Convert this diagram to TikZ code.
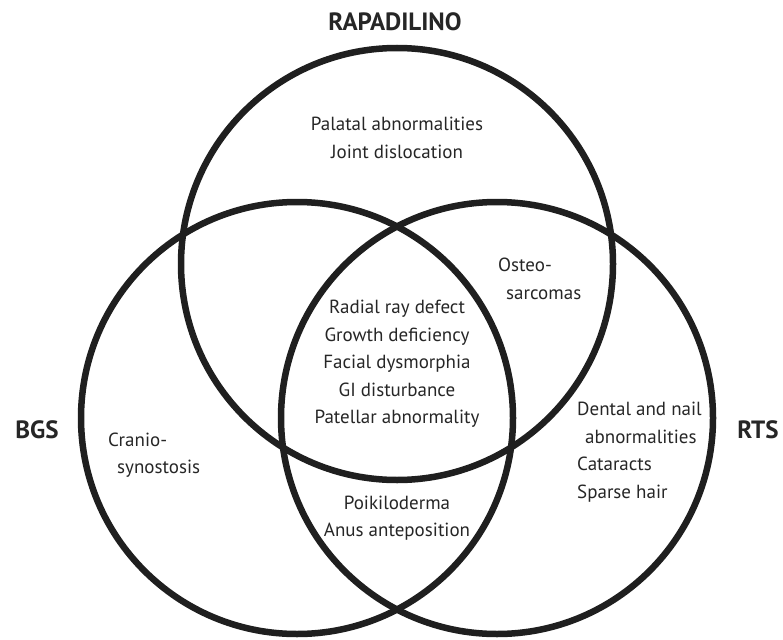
\documentclass[tikz,border=0pt]{standalone}
\usepackage{fontspec}
\setmainfont{PT Sans}

\def\topradius{(397,264) circle (216pt)}
\def\leftradius{(297,418) circle (216pt)}
\def\rightradius{(497,418) circle (216pt)}
\colorlet{circle edge}{black!88}
\colorlet{label text}{black!85}
\tikzset{
  outline/.style={draw=circle edge, line width=6.5pt},
  setname/.style={font=\bfseries\fontsize{25}{28}\selectfont, text=label text, inner sep=0pt},
  trait/.style={font=\fontsize{19}{27.5}\selectfont, text=label text, align=center, inner sep=0pt},
  leftblock/.style={trait, align=left, anchor=west}
}

\begin{document}
\begin{tikzpicture}[x=1pt,y=-1pt]
  \useasboundingbox (0,0) rectangle (783,639);

  \draw[outline] \topradius;
  \draw[outline] \leftradius;
  \draw[outline] \rightradius;

  % names of the three syndromes
  \node[setname] (rapa) at (395,22) {RAPADILINO};
  \node[setname] (bgs) at (37,430) {BGS};
  \node[setname] (rts) at (758,430) {RTS};

  \node[trait] (palatal) at (397,138) {Palatal abnormalities\\Joint dislocation};
  \node[leftblock] (osteo) at (498,279) {Osteo-\\\hspace*{8pt}sarcomas};
  \node[trait] (core) at (397,364) {Radial ray defect\\Growth deficiency\\Facial dysmorphia\\GI disturbance\\Patellar abnormality};
  \node[leftblock] (cranio) at (108,455) {Cranio-\\\hspace*{9pt}synostosis};
  \node[trait] (poik) at (397,518) {Poikiloderma\\Anus anteposition};
  \node[leftblock] (dental) at (577,452) {Dental and nail\\\hspace*{8pt}abnormalities\\Cataracts\\Sparse hair};

\end{tikzpicture}
\end{document}
